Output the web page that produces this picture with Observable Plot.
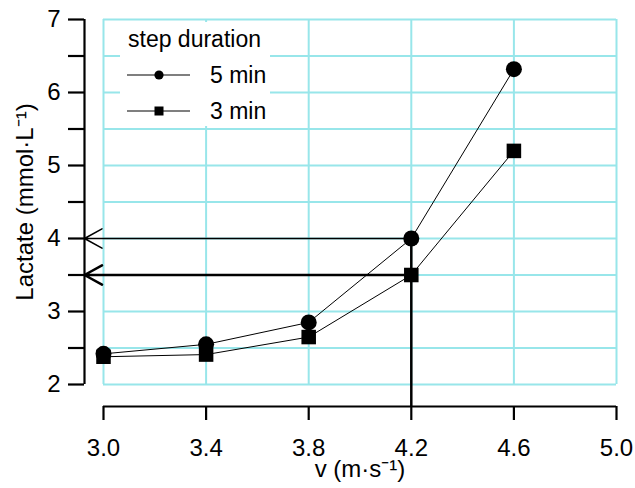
<!DOCTYPE html>
<html>
<head>
<meta charset="utf-8">
<script src="https://cdn.jsdelivr.net/npm/d3@7"></script>
<script src="https://cdn.jsdelivr.net/npm/@observablehq/plot@0.6"></script>
<style>
  body { margin: 0; background: white; }
  #wrap { position: relative; width: 635px; height: 488px; }
  #legend { position: absolute; left: 120px; top: 22px; }
  #legend text { font-family: "Liberation Sans", Arial, sans-serif; font-size: 23px; fill: black; }
</style>
</head>
<body>
<div id="wrap"></div>
<script>
// ---- data ----
const speeds = [3.0, 3.4, 3.8, 4.2, 4.6];
const lactate5min = [2.42, 2.55, 2.85, 4.0, 6.32];
const lactate3min = [2.38, 2.41, 2.65, 3.5, 5.2];
const seriesNames = ["5 min", "3 min"];
const xTicks = [3.0, 3.4, 3.8, 4.2, 4.6, 5.0];
const yTicks = [2, 2.5, 3, 3.5, 4, 4.5, 5, 5.5, 6, 6.5, 7];
const thresholdLactate = [4.0, 3.5];
const thresholdSpeed = [4.2, 4.2];
const xLabel = "v (m·s⁻¹)";
const yLabel = "Lactate (mmol·L⁻¹)";
const legendTitle = "step duration";

const rows5 = speeds.map((v, i) => ({v, lac: lactate5min[i]}));
const rows3 = speeds.map((v, i) => ({v, lac: lactate3min[i]}));
const arrows = thresholdLactate.map((lac, i) => ({lac, v: thresholdSpeed[i]}));

const gridColor = "#98e6ea";

const chart = Plot.plot({
  width: 635,
  height: 488,
  marginLeft: 103,
  marginRight: 19,
  marginTop: 19,
  marginBottom: 104,
  x: {domain: [3, 5]},
  y: {domain: [2, 7]},
  style: {fontFamily: "'Liberation Sans', Arial, sans-serif", fontSize: "24px", background: "white", color: "black"},
  marks: [
    Plot.gridX(xTicks, {stroke: gridColor, strokeOpacity: 1, strokeWidth: 2}),
    Plot.gridY(yTicks, {stroke: gridColor, strokeOpacity: 1, strokeWidth: 2}),
    Plot.axisY({ticks: yTicks, tickFormat: d => Number.isInteger(d) ? String(d) : "", tickSize: 16, tickPadding: 8, dx: -19, strokeWidth: 2.2, label: null}),
    Plot.ruleX([xTicks[0]], {y1: yTicks[0], y2: yTicks[yTicks.length - 1], dx: -19, strokeWidth: 2.2}),
    Plot.axisX({ticks: xTicks, tickFormat: d3.format(".1f"), tickSize: 14, tickPadding: 18, dy: 22, strokeWidth: 2.2, label: null}),
    Plot.ruleY([yTicks[0]], {x1: xTicks[0], x2: xTicks[xTicks.length - 1], dy: 22, strokeWidth: 2.2}),
    // threshold arrows
    Plot.arrow([arrows[0]], {x1: "v", y1: "lac", x2: xTicks[0], y2: "lac", insetEnd: -19, headLength: 20, headAngle: 58, strokeWidth: 1.5, stroke: "black"}),
    Plot.arrow([arrows[1]], {x1: "v", y1: "lac", x2: xTicks[0], y2: "lac", insetEnd: -19, headLength: 12, headAngle: 58, strokeWidth: 2.5, stroke: "black"}),
    Plot.ruleX([arrows[0]], {x: "v", y1: "lac", y2: () => yTicks[0], insetBottom: -22, strokeWidth: 2.5}),
    // series
    Plot.line(rows5, {x: "v", y: "lac", stroke: "black", strokeWidth: 1}),
    Plot.line(rows3, {x: "v", y: "lac", stroke: "black", strokeWidth: 1}),
    Plot.dot(rows5, {x: "v", y: "lac", r: 8, fill: "black", symbol: "circle"}),
    Plot.dot(rows3, {x: "v", y: "lac", r: 8.2, fill: "black", symbol: "square"}),
    // axis titles
    Plot.text([yLabel], {frameAnchor: "left", dx: -78, rotate: -90, text: d => d, textAnchor: "middle", fontSize: 24}),
    Plot.text([xLabel], {frameAnchor: "bottom", dy: 92, text: d => d, textAnchor: "middle", fontSize: 24})
  ]
});

const wrap = document.getElementById("wrap");
wrap.appendChild(chart);

// legend overlay
const ns = "http://www.w3.org/2000/svg";
const leg = document.createElementNS(ns, "svg");
leg.setAttribute("id", "legend");
leg.setAttribute("width", 150);
leg.setAttribute("height", 104);
function el(tag, attrs, txt) {
  const e = document.createElementNS(ns, tag);
  for (const k in attrs) e.setAttribute(k, attrs[k]);
  if (txt) e.textContent = txt;
  leg.appendChild(e);
  return e;
}
el("rect", {x: 0, y: 0, width: 150, height: 104, fill: "white"});
el("text", {x: 8, y: 25}, legendTitle);
el("line", {x1: 7, x2: 70, y1: 53, y2: 53, stroke: "black", "stroke-width": 1.2});
el("circle", {cx: 39, cy: 53, r: 4.6, fill: "black"});
el("text", {x: 90, y: 61}, seriesNames[0]);
el("line", {x1: 7, x2: 70, y1: 89, y2: 89, stroke: "black", "stroke-width": 1.2});
el("rect", {x: 34.5, y: 84.5, width: 9, height: 9, fill: "black"});
el("text", {x: 90, y: 97}, seriesNames[1]);
wrap.appendChild(leg);
</script>
</body>
</html>
